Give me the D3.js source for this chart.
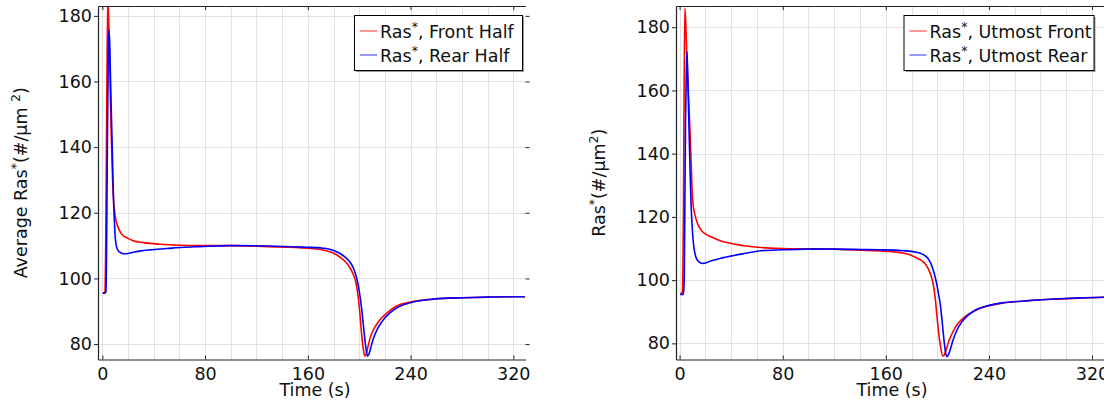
<!DOCTYPE html>
<html>
<head>
<meta charset="utf-8">
<script src="https://cdn.jsdelivr.net/npm/d3@7"></script>
<style>
  body { margin: 0; background: #fff; }
  svg { display: block; font-family: "DejaVu Sans", sans-serif; }
</style>
</head>
<body>
<svg id="chart" width="1104" height="400"></svg>
<script>
// Axis ticks shared by both panels
const xTicks = [0, 80, 160, 240, 320];
const yTicks = [80, 100, 120, 140, 160, 180];
const xGrid = d3.range(0, 321, 20);

// Panel 1: average active Ras over the front and rear halves
const frontHalfT = [0.3, 1.5, 2.0, 2.6, 3.2, 3.8, 4.3, 5.0, 6.0, 6.9, 7.8, 8.7, 10, 12, 15, 20, 24, 32, 45, 60, 80, 100, 130, 160, 170, 177, 182, 186, 190, 193, 195.5, 197.5, 199, 200.5, 202, 203.5, 204.4, 205.5, 207, 209, 212, 216, 222, 229, 240, 255, 270, 281, 300, 315, 329];
const frontHalfV = [95.6, 95.7, 96.0, 110, 140, 172, 185, 178, 160, 144.3, 132, 123.9, 119, 115.8, 113.5, 112.2, 111.5, 110.9, 110.4, 110.1, 110.0, 110.0, 109.7, 109.2, 108.8, 108.1, 107.3, 106.2, 104.8, 103.1, 101.1, 98.6, 95, 89.5, 82.5, 77.8, 76.4, 77, 79.5, 82.5, 85, 87.3, 89.6, 91.6, 92.8, 93.6, 94.0, 94.1, 94.3, 94.4, 94.4];
const rearHalfT = [0.3, 2.0, 2.8, 3.4, 4.0, 4.6, 5.1, 5.7, 6.5, 7.4, 8.2, 8.7, 9.3, 9.8, 10.6, 11.8, 13.6, 15.5, 17.3, 20, 24, 30, 37, 50, 63, 76, 99, 130, 159, 170, 177, 182, 185, 189, 192.8, 195.5, 198, 200, 202, 204, 205.5, 206.5, 207.8, 209.3, 211, 214, 218, 224, 230, 240, 255, 270, 281, 300, 315, 329];
const rearHalfV = [95.5, 95.5, 96, 115, 145, 168, 175.7, 172, 158, 144.3, 131, 123.9, 118, 113.7, 110.5, 108.8, 108.0, 107.6, 107.5, 107.6, 108.0, 108.4, 108.7, 109.1, 109.5, 109.7, 110.0, 109.9, 109.5, 109.3, 108.9, 108.2, 107.6, 106.5, 105.0, 103.1, 100.2, 96.2, 90.5, 83, 78, 76.3, 77.2, 79.3, 81.6, 84.5, 87, 89.5, 91.2, 92.6, 93.6, 94.0, 94.1, 94.3, 94.4, 94.4];

// Panel 2: active Ras at the utmost front and rear points
const utmostFrontT = [0.5, 2.0, 2.5, 3.0, 3.5, 4.1, 4.7, 5.5, 6.5, 7.5, 8.8, 10.1, 12, 14, 16.5, 20, 24.3, 30, 37.3, 50, 63, 80, 100, 120, 140.8, 155, 166.7, 174, 179.6, 184, 187.4, 190.5, 192.6, 194.8, 196.5, 197.5, 198.3, 199.5, 201, 202.5, 204.3, 205.5, 207, 209, 212, 216, 221, 229, 239, 250, 267.6, 280, 293.6, 310, 331];
const utmostFrontV = [95.8, 95.9, 100, 125, 160, 186, 182, 172, 162, 153, 139, 125.3, 120.5, 117.8, 115.9, 114.6, 113.7, 112.7, 111.8, 110.9, 110.3, 110.0, 109.9, 109.8, 109.5, 109.2, 108.9, 108.5, 107.9, 107.0, 106.3, 105.2, 103.9, 101.8, 99.3, 97, 94.5, 89.5, 83.5, 79, 76.0, 76.4, 78.2, 80.8, 83.6, 86.3, 88.3, 90.3, 91.8, 92.7, 93.4, 93.8, 94.0, 94.3, 94.6];
const utmostRearT = [0.5, 3.0, 3.6, 4.1, 4.6, 5.2, 5.7, 6.3, 7.0, 7.8, 8.8, 9.6, 10.4, 11.4, 12.5, 14, 16, 17.9, 20, 23, 26.9, 32, 37.3, 50, 63, 80, 100, 120, 140.8, 155, 166.7, 174, 179.6, 184, 187.4, 190.5, 192.6, 194.8, 197, 199, 200.8, 202.4, 203.6, 204.8, 205.9, 206.8, 207.6, 208.5, 210, 212, 215, 219, 223, 229, 239, 250, 267.6, 280, 293.6, 310, 331];
const utmostRearV = [95.5, 95.5, 100, 125, 150, 166, 172.3, 165, 153, 140, 125, 118, 113, 109.5, 107.5, 106.2, 105.5, 105.3, 105.4, 105.9, 106.4, 106.9, 107.4, 108.4, 109.3, 109.6, 109.8, 109.8, 109.7, 109.6, 109.5, 109.3, 109.1, 108.8, 108.4, 107.7, 106.9, 105.4, 103, 99.8, 96, 92, 87.5, 82.5, 78.5, 76.3, 75.8, 76.3, 78, 80.8, 84, 86.8, 88.6, 90.4, 91.9, 92.8, 93.4, 93.8, 94.1, 94.4, 94.6];

const pair = (ts, vs) => ts.map((t, i) => [t, vs[i]]);

const panels = [
  {
    box: { left: 98, right: 525.5, top: 6, bottom: 359.5 },
    tDomain: [-3.4, 329.5],
    vDomain: [75.3, 183],
    series: [
      { name: "Front Half", color: "#ff0000", points: pair(frontHalfT, frontHalfV) },
      { name: "Rear Half", color: "#0000ff", points: pair(rearHalfT, rearHalfV) }
    ],
    legend: { x: 354, y: 15, w: 168, h: 55 },
    yTitle: { x: 21, prefix: "Average Ras", mid: "(#/\u03bcm ", sup: "2", suffix: ")" },
    xTitleX: 315,
    clipId: "clipA"
  },
  {
    box: { left: 676, right: 1105.5, top: 6, bottom: 359.5 },
    tDomain: [-2.8, 330.5],
    vDomain: [74.9, 186.7],
    series: [
      { name: "Utmost Front", color: "#ff0000", points: pair(utmostFrontT, utmostFrontV) },
      { name: "Utmost Rear", color: "#0000ff", points: pair(utmostRearT, utmostRearV) }
    ],
    legend: { x: 903.5, y: 15, w: 190, h: 55 },
    yTitle: { x: 599, prefix: "Ras", mid: "(#/\u03bcm", sup: "2", suffix: ")" },
    xTitleX: 892,
    clipId: "clipB"
  }
];

const svg = d3.select("#chart");
const defs = svg.append("defs");
const FS = 17.5;

panels.forEach(p => {
  const b = p.box;
  const x = d3.scaleLinear().domain(p.tDomain).range([b.left, b.right]);
  const y = d3.scaleLinear().domain(p.vDomain).range([b.bottom, b.top]);
  const g = svg.append("g");

  defs.append("clipPath").attr("id", p.clipId)
    .append("rect")
    .attr("x", b.left).attr("y", b.top)
    .attr("width", b.right - b.left).attr("height", b.bottom - b.top);

  // grid
  g.append("g").selectAll("line").data(xGrid).join("line")
    .attr("x1", d => Math.round(x(d)) + 0.5).attr("x2", d => Math.round(x(d)) + 0.5)
    .attr("y1", b.top).attr("y2", b.bottom)
    .attr("stroke", "#e2e2e2").attr("stroke-width", 1);
  g.append("g").selectAll("line").data(yTicks).join("line")
    .attr("x1", b.left).attr("x2", b.right)
    .attr("y1", d => Math.round(y(d)) + 0.5).attr("y2", d => Math.round(y(d)) + 0.5)
    .attr("stroke", "#e2e2e2").attr("stroke-width", 1);

  // curves
  const line = d3.line().x(d => x(d[0])).y(d => y(d[1])).curve(d3.curveMonotoneX);
  const curves = g.append("g").attr("clip-path", `url(#${p.clipId})`);
  p.series.forEach(s => {
    curves.append("path").datum(s.points)
      .attr("d", line)
      .attr("fill", "none")
      .attr("stroke", s.color)
      .attr("stroke-width", 1.6)
      .attr("stroke-linejoin", "round");
  });

  // axes: left and bottom with labels, mirrored ticks on top and right
  const axisColor = "#222";
  const left = g.append("g").attr("transform", `translate(${b.left},0)`)
    .call(d3.axisLeft(y).tickValues(yTicks).tickSizeOuter(0).tickSizeInner(4).tickPadding(2));
  const bottom = g.append("g").attr("transform", `translate(0,${b.bottom})`)
    .call(d3.axisBottom(x).tickValues(xTicks).tickSizeOuter(0).tickSizeInner(-4).tickPadding(10));
  const top = g.append("g").attr("transform", `translate(0,${b.top})`)
    .call(d3.axisTop(x).tickValues(xTicks).tickSizeOuter(0).tickSizeInner(-4).tickFormat(""));
  const right = g.append("g").attr("transform", `translate(${b.right},0)`)
    .call(d3.axisRight(y).tickValues(yTicks).tickSizeOuter(0).tickSizeInner(4).tickFormat(""));
  right.select(".domain").remove();
  [left, bottom, top, right].forEach(a => {
    a.selectAll(".domain").attr("stroke", axisColor).attr("stroke-width", 1.2);
    a.selectAll(".tick line").attr("stroke", axisColor).attr("stroke-width", 1);
    a.selectAll(".tick text")
      .attr("font-family", "DejaVu Sans, sans-serif")
      .attr("font-size", FS).attr("fill", "#111");
  });
  bottom.selectAll(".tick text").attr("dy", "0.6em");

  // x title
  g.append("text")
    .attr("x", p.xTitleX).attr("y", 396)
    .attr("text-anchor", "middle")
    .attr("font-size", FS).attr("fill", "#111")
    .text("Time (s)");

  // y title with superscripts
  const yt = g.append("text")
    .attr("transform", `translate(${p.yTitle.x},${(b.top + b.bottom) / 2}) rotate(-90)`)
    .attr("text-anchor", "middle")
    .attr("dy", "0.35em")
    .attr("font-size", FS).attr("fill", "#111");
  yt.append("tspan").text(p.yTitle.prefix);
  yt.append("tspan").attr("font-size", 12.5).attr("dy", -7).text("*");
  yt.append("tspan").attr("dy", 7).text(p.yTitle.mid);
  yt.append("tspan").attr("font-size", 12.5).attr("dy", -7).text(p.yTitle.sup);
  yt.append("tspan").attr("dy", 7).text(p.yTitle.suffix);

  // legend
  const L = p.legend;
  const lg = g.append("g");
  lg.append("rect")
    .attr("x", L.x + 2).attr("y", L.y + 2).attr("width", L.w).attr("height", L.h)
    .attr("fill", "#9a9a9a");
  lg.append("rect")
    .attr("x", L.x + 0.5).attr("y", L.y + 0.5).attr("width", L.w).attr("height", L.h)
    .attr("fill", "#fff").attr("stroke", "#000").attr("stroke-width", 1);
  p.series.forEach((s, i) => {
    const cy = L.y + 16 + i * 24;
    lg.append("line")
      .attr("x1", L.x + 6).attr("x2", L.x + 23)
      .attr("y1", cy).attr("y2", cy)
      .attr("stroke", s.color).attr("stroke-opacity", 0.55).attr("stroke-width", 1.5);
    const t = lg.append("text")
      .attr("x", L.x + 26).attr("y", cy + 6.5)
      .attr("font-size", FS).attr("fill", "#111");
    t.append("tspan").text("Ras");
    t.append("tspan").attr("font-size", 12.5).attr("dy", -7).text("*");
    t.append("tspan").attr("dy", 7).text(", " + s.name);
  });
});
</script>
</body>
</html>
